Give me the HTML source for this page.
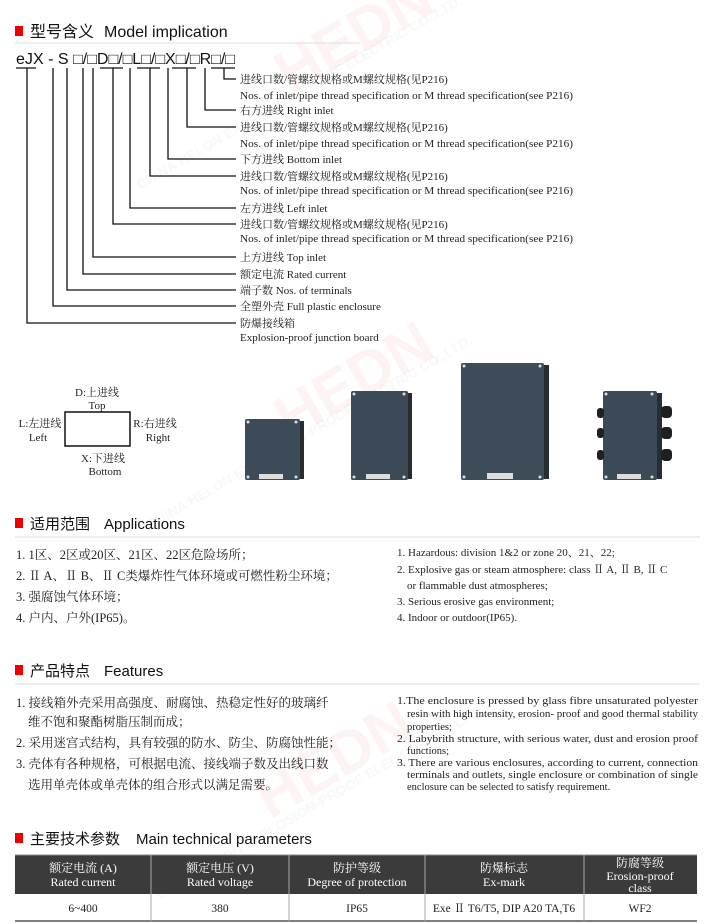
<!DOCTYPE html>
<html><head><meta charset="utf-8"><style>
html,body{margin:0;padding:0;background:#fff;width:710px;height:924px;overflow:hidden}
svg{display:block}
.s{font-family:"Liberation Serif","Noto Serif CJK SC","Noto Sans CJK SC",serif;fill:#222}
.a{font-family:"Liberation Sans","Noto Sans CJK SC",sans-serif;fill:#111}
</style></head><body>
<svg width="710" height="924" viewBox="0 0 710 924" xmlns="http://www.w3.org/2000/svg">
<!-- watermark -->
<g opacity="0.06" fill="#e33" font-family="Liberation Sans,sans-serif" font-weight="bold">
<text x="290" y="95" font-size="60" transform="rotate(-30 290 95)">HEDN</text>
<text x="290" y="440" font-size="60" transform="rotate(-30 290 440)">HEDN</text>
<text x="270" y="820" font-size="60" transform="rotate(-30 270 820)">HEDN</text>
</g>
<g opacity="0.06" fill="#888" font-family="Liberation Sans,sans-serif" font-size="14" font-weight="bold">
<text x="140" y="190" transform="rotate(-30 140 190)">CHINA HELON EXPLOSION-PROOF ELECTRIC CO.,LTD.</text>
<text x="150" y="530" transform="rotate(-30 150 530)">CHINA HELON EXPLOSION-PROOF ELECTRIC CO.,LTD.</text>
<text x="160" y="900" transform="rotate(-30 160 900)">CHINA HELON EXPLOSION-PROOF ELECTRIC CO.,LTD.</text>
</g>

<!-- Section 1 header -->
<rect x="15" y="26" width="8" height="10" fill="#e00"/>
<text x="30" y="37" class="a" font-size="16">型号含义</text>
<text x="104" y="37" class="a" font-size="16">Model implication</text>
<line x1="15" y1="43" x2="360" y2="43" stroke="#ddd"/>

<text x="16" y="64" class="a" font-size="15.5" textLength="219" lengthAdjust="spacingAndGlyphs">eJX - S □/□D□/□L□/□X□/□R□/□</text>
<g stroke="#111" stroke-width="1.3" fill="none">
<line x1="16" y1="68" x2="36" y2="68"/><line x1="100" y1="68" x2="123" y2="68"/><line x1="137" y1="68" x2="160" y2="68"/><line x1="172" y1="68" x2="196" y2="68"/><line x1="211" y1="68" x2="235" y2="68"/>
<polyline points="224,68 224,79 236,79"/>
<polyline points="205,68 205,110 236,110"/>
<polyline points="187,68 187,127 236,127"/>
<polyline points="168,68 168,159 236,159"/>
<polyline points="150,68 150,176 236,176"/>
<polyline points="130,68 130,208 236,208"/>
<polyline points="113,68 113,224 236,224"/>
<polyline points="93,68 93,257 236,257"/>
<polyline points="83,68 83,274 236,274"/>
<polyline points="67,68 67,290 236,290"/>
<polyline points="53,68 53,306 236,306"/>
<polyline points="27,68 27,323 236,323"/>
</g>
<g class="s" font-size="11">
<text x="240" y="83">进线口数/管螺纹规格或M螺纹规格(见P216)</text>
<text x="240" y="99" textLength="333" lengthAdjust="spacingAndGlyphs">Nos. of inlet/pipe thread specification or M thread specification(see P216)</text>
<text x="240" y="114">右方进线  Right inlet</text>
<text x="240" y="131">进线口数/管螺纹规格或M螺纹规格(见P216)</text>
<text x="240" y="147" textLength="333" lengthAdjust="spacingAndGlyphs">Nos. of inlet/pipe thread specification or M thread specification(see P216)</text>
<text x="240" y="163">下方进线    Bottom  inlet</text>
<text x="240" y="180">进线口数/管螺纹规格或M螺纹规格(见P216)</text>
<text x="240" y="194" textLength="333" lengthAdjust="spacingAndGlyphs">Nos. of inlet/pipe thread specification or M thread specification(see P216)</text>
<text x="240" y="212">左方进线 Left inlet</text>
<text x="240" y="228">进线口数/管螺纹规格或M螺纹规格(见P216)</text>
<text x="240" y="242" textLength="333" lengthAdjust="spacingAndGlyphs">Nos. of inlet/pipe thread specification or M thread specification(see P216)</text>
<text x="240" y="261">上方进线 Top inlet</text>
<text x="240" y="278">额定电流 Rated current</text>
<text x="240" y="294">端子数  Nos. of  terminals</text>
<text x="240" y="310">全塑外壳  Full plastic enclosure</text>
<text x="240" y="327">防爆接线箱</text>
<text x="240" y="341">Explosion-proof junction board</text>
</g>

<!-- box diagram -->
<rect x="65" y="412" width="65" height="34" fill="none" stroke="#111" stroke-width="1.5"/>
<g class="s" font-size="11" text-anchor="middle">
<text x="97" y="396">D:上进线</text><text x="97" y="409">Top</text>
<text x="40" y="427">L:左进线</text><text x="38" y="441">Left</text>
<text x="155" y="427">R:右进线</text><text x="158" y="441">Right</text>
<text x="103" y="462">X:下进线</text><text x="105" y="475">Bottom</text>
</g>

<!-- enclosures -->
<g>
<rect x="299" y="421" width="5" height="58" fill="#2a2d30"/>
<rect x="245" y="419" width="55" height="61" rx="2" fill="#3d4a57"/>
<rect x="407" y="393" width="5" height="86" fill="#2a2d30"/>
<rect x="351" y="391" width="57" height="89" rx="2" fill="#3c4956"/>
<rect x="543" y="365" width="6" height="114" fill="#2a2d30"/>
<rect x="461" y="363" width="83" height="117" rx="2" fill="#3e4b58"/>
<rect x="656" y="393" width="6" height="86" fill="#2a2d30"/>
<rect x="603" y="391" width="54" height="89" rx="2" fill="#3c4956"/>
<g fill="#1e2124">
<rect x="597" y="408" width="7" height="10" rx="3"/><rect x="597" y="428" width="7" height="10" rx="3"/><rect x="597" y="450" width="7" height="10" rx="3"/>
<rect x="661" y="406" width="11" height="12" rx="4"/><rect x="661" y="427" width="11" height="12" rx="4"/><rect x="661" y="449" width="11" height="12" rx="4"/>
</g>
<g fill="#ddd">
<circle cx="248" cy="422" r="1.5"/><circle cx="296" cy="422" r="1.5"/><circle cx="248" cy="477" r="1.5"/><circle cx="296" cy="477" r="1.5"/>
<circle cx="354" cy="394" r="1.5"/><circle cx="404" cy="394" r="1.5"/><circle cx="354" cy="477" r="1.5"/><circle cx="404" cy="477" r="1.5"/>
<circle cx="464" cy="366" r="1.5"/><circle cx="540" cy="366" r="1.5"/><circle cx="464" cy="477" r="1.5"/><circle cx="540" cy="477" r="1.5"/>
<circle cx="606" cy="394" r="1.5"/><circle cx="652" cy="394" r="1.5"/><circle cx="606" cy="477" r="1.5"/><circle cx="652" cy="477" r="1.5"/>
<rect x="259" y="474" width="24" height="5"/><rect x="366" y="474" width="24" height="5"/><rect x="487" y="473" width="26" height="6"/><rect x="617" y="474" width="24" height="5"/>
</g>
</g>

<!-- Applications -->
<rect x="15" y="518" width="8" height="10" fill="#e00"/>
<text x="30" y="529" class="a" font-size="15">适用范围</text>
<text x="104" y="529" class="a" font-size="15">Applications</text>
<line x1="15" y1="537" x2="700" y2="537" stroke="#ddd"/>
<g class="s" font-size="12.5">
<text x="16" y="559">1. 1区、2区或20区、21区、22区危险场所；</text>
<text x="16" y="580">2. Ⅱ A、Ⅱ B、Ⅱ C类爆炸性气体环境或可燃性粉尘环境；</text>
<text x="16" y="601">3. 强腐蚀气体环境；</text>
<text x="16" y="622">4. 户内、户外(IP65)。</text>
</g>
<g class="s" font-size="11">
<text x="397" y="556">1. Hazardous: division 1&amp;2 or zone 20、21、22;</text>
<text x="397" y="573">2. Explosive gas or steam atmosphere: class Ⅱ A, Ⅱ B, Ⅱ C</text>
<text x="407" y="589">or flammable dust atmospheres;</text>
<text x="397" y="605">3. Serious erosive gas environment;</text>
<text x="397" y="621">4. Indoor or outdoor(IP65).</text>
</g>

<!-- Features -->
<rect x="15" y="665" width="8" height="10" fill="#e00"/>
<text x="30" y="676" class="a" font-size="15">产品特点</text>
<text x="104" y="676" class="a" font-size="15">Features</text>
<line x1="15" y1="684" x2="700" y2="684" stroke="#ddd"/>
<g class="s" font-size="12.5">
<text x="16" y="707">1. 接线箱外壳采用高强度、耐腐蚀、热稳定性好的玻璃纤</text>
<text x="28" y="726">维不饱和聚酯树脂压制而成；</text>
<text x="16" y="747">2. 采用迷宫式结构，具有较强的防水、防尘、防腐蚀性能；</text>
<text x="16" y="768">3. 壳体有各种规格，可根据电流、接线端子数及出线口数</text>
<text x="28" y="789">选用单壳体或单壳体的组合形式以满足需要。</text>
</g>
<g class="s" font-size="10.5">
<text x="397" y="704" textLength="301" lengthAdjust="spacingAndGlyphs">1.The enclosure is pressed by glass fibre unsaturated polyester</text>
<text x="407" y="717" textLength="291" lengthAdjust="spacingAndGlyphs">resin with high intensity, erosion- proof and  good thermal stability</text>
<text x="407" y="730">properties;</text>
<text x="397" y="742" textLength="301" lengthAdjust="spacingAndGlyphs">2. Labybrith structure, with serious water, dust and erosion proof</text>
<text x="407" y="754">functions;</text>
<text x="397" y="766" textLength="301" lengthAdjust="spacingAndGlyphs">3. There are various enclosures, according to current, connection</text>
<text x="407" y="778" textLength="291" lengthAdjust="spacingAndGlyphs">terminals and outlets, single enclosure or combination of single</text>
<text x="407" y="790">enclosure can be selected to satisfy requirement.</text>
</g>

<!-- Technical parameters -->
<rect x="15" y="833" width="8" height="10" fill="#e00"/>
<text x="30" y="844" class="a" font-size="15">主要技术参数</text>
<text x="136" y="844" class="a" font-size="15">Main technical parameters</text>
<rect x="15" y="855" width="682" height="39" fill="#3b3b3b"/>
<line x1="15" y1="855" x2="697" y2="855" stroke="#888"/>
<line x1="15" y1="921" x2="697" y2="921" stroke="#555" stroke-width="1.5"/>
<g stroke="#aaa"><line x1="151" y1="855" x2="151" y2="921"/><line x1="289" y1="855" x2="289" y2="921"/><line x1="425" y1="855" x2="425" y2="921"/><line x1="584" y1="855" x2="584" y2="921"/></g>
<g font-family="Liberation Serif,Noto Serif CJK SC,serif" font-size="12" text-anchor="middle" fill="#fff">
<text x="83" y="872">额定电流 (A)</text><text x="83" y="886">Rated current</text>
<text x="220" y="872">额定电压 (V)</text><text x="220" y="886">Rated voltage</text>
<text x="357" y="872">防护等级</text><text x="357" y="886">Degree of protection</text>
<text x="504" y="872">防爆标志</text><text x="504" y="886">Ex-mark</text>
<text x="640" y="867">防腐等级</text><text x="640" y="880">Erosion-proof</text><text x="640" y="892">class</text>
</g>
<g class="s" font-size="11.5" text-anchor="middle">
<text x="83" y="912">6~400</text><text x="220" y="912">380</text><text x="357" y="912">IP65</text>
<text x="504" y="912">Exe Ⅱ T6/T5, DIP A20 TA,T6</text><text x="640" y="912">WF2</text>
</g>
</svg>
</body></html>
